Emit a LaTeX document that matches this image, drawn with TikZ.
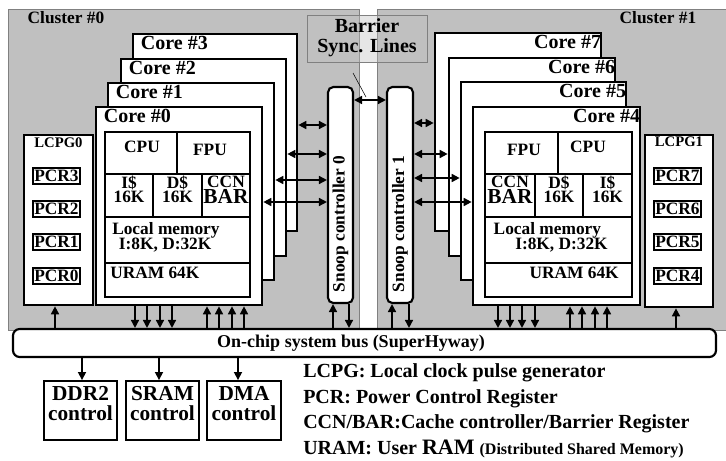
\documentclass[tikz,border=0pt]{standalone}
\usepackage{fontspec}
\setmainfont{Liberation Serif}
\usetikzlibrary{positioning, arrows.meta, fit}
\usepackage{xcolor}
\definecolor{clustergray}{RGB}{192,192,192}
\newcommand{\fsz}[1]{\fontsize{#1}{#1}\selectfont\bfseries}

\begin{document}
\begin{tikzpicture}[
        x=0.75pt, y=-0.75pt,
        cluster/.style={draw=gray, thin, fill=clustergray, inner sep=0pt},
        core/.style={draw, fill=white, line width=2pt, inner sep=0pt},
        cell/.style={draw, line width=1.4pt, inner sep=0pt, align=center, font=\fontsize{13}{10.5}\selectfont\bfseries},
        pcr/.style={draw, fill=white, line width=1.4pt, inner xsep=1pt, inner ysep=0pt, minimum height=12.5pt, font=\fsz{13}},
        snoop/.style={draw, fill=white, line width=1.6pt, rounded corners=4pt, inner sep=0pt},
        ctrl/.style={draw, fill=white, line width=1.4pt, inner sep=0pt, align=center, font=\fontsize{16}{14.5}\selectfont\bfseries},
        txt/.style={inner sep=0pt, font=\fsz{13}},
        arrow/.style={-{Triangle[length=6pt, width=6pt]}, line width=1.2pt},
        darrow/.style={{Triangle[length=6pt, width=6pt]}-{Triangle[length=6pt, width=6pt]}, line width=1.2pt}
    ]
        \useasboundingbox (0,0) rectangle (726,461);

        % Clusters
        \node[cluster, fit={(8,9) (359,330)}] (cl0) {};
        \node[cluster, fit={(377,9) (726,330)}] (cl1) {};
        \node[txt] (tcl0) at (66,18) {Cluster \#0};
        \node[txt] (tcl1) at (658,18) {Cluster \#1};

        % Barrier sync lines
        \node[draw=gray, fill=clustergray, fill opacity=0.4, inner sep=0pt, fit={(307,15) (427,62)}] (bar) {};
        \node[txt, font=\fontsize{15}{15}\selectfont\bfseries, align=center] (tbar) at (367,38) {Barrier\\Sync. Lines};

        % Cores of cluster 0
        \node[core, fit={(133,34) (297,231)}] (c3) {};
        \node[core, fit={(121,59) (286,256)}] (c2) {};
        \node[core, fit={(108,83) (274,280)}] (c1) {};
        \node[core, fit={(96,107) (262,305)}] (c0) {};
        \foreach \c/\t in {c3/3, c2/2, c1/1, c0/0}
            \node[txt, font=\fsz{15}, anchor=base west] (t\c) at ([xshift=6.75pt, yshift=-12.75pt]\c.north west) {Core \#\t};

        % Cores of cluster 1
        \node[core, fit={(435,33) (601,231)}] (c7) {};
        \node[core, fit={(449,58) (615,256)}] (c6) {};
        \node[core, fit={(461,82) (626,280)}] (c5) {};
        \node[core, fit={(473,107) (640,305)}] (c4) {};
        \foreach \c/\t in {c7/7, c6/6, c5/5, c4/4}
            \node[txt, font=\fsz{15}, anchor=base east] (t\c) at ([xshift=-0.75pt, yshift=-12.75pt]\c.north east) {Core \#\t};

        % Core #0 units
        \node[cell, fit={(105,132) (177,174)}] (cpu0) {};
        \node[cell, fit={(177,132) (250,174)}] (fpu0) {};
        \node[cell, fit={(105,174) (153,217)}] (ic0) {I\$\\16K};
        \node[cell, fit={(153,174) (202,217)}] (dc0) {D\$\\16K};
        \node[cell, fit={(202,174) (250,217)}] (ccn0) {CCN\\{\fsz{16}BAR}};
        \node[cell, fit={(105,217) (250,263)}] (lm0) {};
        \node[cell, fit={(105,263) (250,297)}] (ur0) {};
        \node[txt] (tcpu0) at (142,147) {CPU};
        \node[txt] (tfpu0) at (210,150) {FPU};
        \node[txt, anchor=north west, align=left, font=\fontsize{13}{11.5}\selectfont\bfseries] (tlm0) at (112,222) {Local memory\\\hspace*{5pt}I:8K, D:32K};
        \node[txt, anchor=north west] (tur0) at (110,267) {URAM 64K};

        % Core #4 units
        \node[cell, fit={(485,132) (558,174)}] (fpu4) {};
        \node[cell, fit={(558,132) (632,174)}] (cpu4) {};
        \node[cell, fit={(485,174) (535,217)}] (ccn4) {CCN\\{\fsz{16}BAR}};
        \node[cell, fit={(535,174) (583,217)}] (dc4) {D\$\\16K};
        \node[cell, fit={(583,174) (632,217)}] (ic4) {I\$\\16K};
        \node[cell, fit={(485,217) (632,263)}] (lm4) {};
        \node[cell, fit={(485,263) (632,297)}] (ur4) {};
        \node[txt] (tfpu4) at (524,150) {FPU};
        \node[txt] (tcpu4) at (588,147) {CPU};
        \node[txt, anchor=north east, align=right, font=\fontsize{13}{11.5}\selectfont\bfseries] (tlm4) at (608,222) {Local memory\hspace*{5pt}\\I:8K, D:32K};
        \node[txt, anchor=north east] (tur4) at (619,267) {URAM 64K};

        % Snoop controllers
        \node[snoop, fit={(328,87) (353,303)}] (s0) {};
        \node[snoop, fit={(387,87) (413,303)}] (s1) {};
        \node[txt, rotate=90] (ts0) at (340.5,224) {Snoop controller 0};
        \node[txt, rotate=90] (ts1) at (400,224) {Snoop controller 1};

        % Clock pulse generators
        \node[core, fit={(24,135) (93,305)}] (lcpg0) {};
        \node[core, fit={(645,135) (713,307)}] (lcpg1) {};
        \node[txt, font=\fsz{11}, anchor=north] (tlcpg0) at (58.5,137) {LCPG0};
        \node[txt, font=\fsz{11}, anchor=north] (tlcpg1) at (679,137) {LCPG1};
        \foreach \n/\y in {3/176, 2/209, 1/242, 0/276}
            \node[pcr] (pcr\n) at (56.5,\y) {PCR\n};
        \foreach \n/\y in {7/176, 6/209, 5/242, 4/276}
            \node[pcr] (pcr\n) at (677.5,\y) {PCR\n};

        % Bus and controllers
        \node[draw, fill=white, line width=1.6pt, rounded corners=5pt, inner sep=0pt, fit={(13,329) (716,357)}] (bus) {};
        \node[txt, font=\fsz{13.5}] (tbus) at (351,343) {On-chip system bus (SuperHyway)};
        \node[ctrl, fit={(44,381) (117,440)}] (ddr) {DDR2\\control};
        \node[ctrl, fit={(126,381) (199,440)}] (sram) {SRAM\\control};
        \node[ctrl, fit={(207,381) (281,440)}] (dma) {DMA\\control};

        % Snoop links
        \draw[darrow] (s0.east |- 0,100) -- (s1.west |- 0,100);
        \draw[darrow] (c3.east |- 0,125) -- (s0.west |- 0,125);
        \draw[darrow] (c2.east |- 0,154) -- (s0.west |- 0,154);
        \draw[darrow] (c1.east |- 0,180) -- (s0.west |- 0,180);
        \draw[darrow] (c0.east |- 0,202) -- (s0.west |- 0,202);
        \draw[darrow] (s1.east |- 0,123) -- (c7.west |- 0,123);
        \draw[darrow] (s1.east |- 0,154) -- (c6.west |- 0,154);
        \draw[darrow] (s1.east |- 0,178) -- (c5.west |- 0,178);
        \draw[darrow] (s1.east |- 0,202) -- (c4.west |- 0,202);
        \coordinate (bl) at (353,73);
        \coordinate (bs) at (366,97);
        \draw[thin] (bl) -- (bs);

        % Bus links
        \foreach \x in {135,147,160,172}
            \draw[arrow] (c0.south -| \x,0) -- (bus.north -| \x,0);
        \foreach \x in {207,219,232,244}
            \draw[arrow] (bus.north -| \x,0) -- (c0.south -| \x,0);
        \foreach \x in {498,510,522,535}
            \draw[arrow] (c4.south -| \x,0) -- (bus.north -| \x,0);
        \foreach \x in {570,582,595,607}
            \draw[arrow] (bus.north -| \x,0) -- (c4.south -| \x,0);
        \draw[arrow] (bus.north -| 333,0) -- (s0.south -| 333,0);
        \draw[arrow] (s0.south -| 349,0) -- (bus.north -| 349,0);
        \draw[arrow] (bus.north -| 392,0) -- (s1.south -| 392,0);
        \draw[arrow] (s1.south -| 409,0) -- (bus.north -| 409,0);
        \draw[arrow] (bus.north -| 55,0) -- (lcpg0.south -| 55,0);
        \draw[arrow] (bus.north -| 676,0) -- (lcpg1.south -| 676,0);
        \draw[arrow] (bus.south -| 82,0) -- (ddr.north -| 82,0);
        \draw[arrow] (bus.south -| 159,0) -- (sram.north -| 159,0);
        \draw[arrow] (bus.south -| 238,0) -- (dma.north -| 238,0);

        % Legend
        \node[txt, font=\fsz{15}, anchor=base west] (leg1) at (303,377) {LCPG: Local clock pulse generator};
        \node[txt, font=\fsz{15}, anchor=base west] (leg2) at (303,403) {PCR: Power Control Register};
        \node[txt, font=\fsz{15}, anchor=base west] (leg3) at (303,428) {CCN/BAR:Cache controller/Barrier Register};
        \node[txt, font=\fsz{15}, anchor=base west] (leg4) at (303,454) {URAM: User {\fsz{16.5}RAM} {\fsz{12}(Distributed Shared Memory)}};
    \end{tikzpicture}
\end{document}
